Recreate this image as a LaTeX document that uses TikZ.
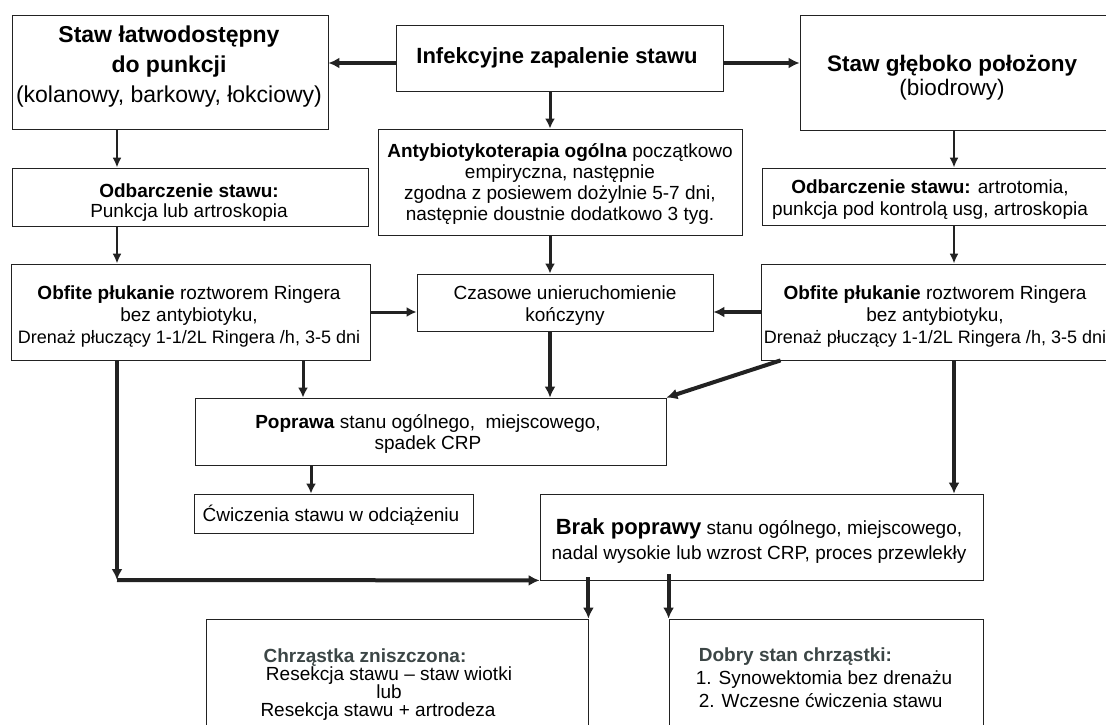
\documentclass[tikz,border=0pt]{standalone}
\usepackage{fontspec}
\setmainfont{Liberation Sans}
\usetikzlibrary{arrows.meta}
\definecolor{hd}{RGB}{60,70,70}
\definecolor{ln}{RGB}{34,34,34}
\tikzset{
  box/.style={draw=ln, line width=0.8pt, rectangle, inner sep=0pt, anchor=center},
  txt/.style={align=center, inner sep=0pt, anchor=center, font=\fontsize{19}{22}\selectfont},
  thinarr/.style={draw=ln, line width=2pt, -{Latex[length=10pt,width=9pt]}},
  medarr/.style={draw=ln, line width=3pt, -{Latex[length=10pt,width=10pt]}},
  thickarr/.style={draw=ln, line width=4pt, -{Latex[length=11pt,width=11pt]}},
}
\begin{document}
\begin{tikzpicture}[x=1pt,y=-1pt]
\useasboundingbox (0,0) rectangle (1106,725);
\clip (0,0) rectangle (1106,725);
\fill[white] (0,0) rectangle (1106,725);
% boxes
\node[box, minimum width=316pt, minimum height=114pt] (A) at (170,72) {};
\node[box, minimum width=327pt, minimum height=66pt] (B) at (559.5,58) {};
\node[box, minimum width=310pt, minimum height=115pt] (C) at (955,72.5) {};
\node[box, minimum width=356pt, minimum height=58pt] (D) at (190,197) {};
\node[box, minimum width=364pt, minimum height=106pt] (E) at (560,182) {};
\node[box, minimum width=348pt, minimum height=57pt] (F) at (936,196.5) {};
\node[box, minimum width=359pt, minimum height=96pt] (G) at (190.5,312) {};
\node[box, minimum width=296pt, minimum height=57pt] (Cz) at (565,302.5) {};
\node[box, minimum width=349pt, minimum height=96pt] (H) at (935.5,312) {};
\node[box, minimum width=471pt, minimum height=67pt] (P) at (430.5,431.5) {};
\node[box, minimum width=279pt, minimum height=39pt] (Cw) at (333.5,513.5) {};
\node[box, minimum width=443pt, minimum height=86pt] (Br) at (761.5,537) {};
\node[box, minimum width=382pt, minimum height=121pt] (Ch) at (397,679.5) {};
\node[box, minimum width=314pt, minimum height=121pt] (Do) at (826,679.5) {};
% texts
\node[txt, font=\fontsize{23}{30}\selectfont] (tA) at (169,67) {\textbf{Staw łatwodostępny}\\\textbf{do punkcji}\\(kolanowy, barkowy, łokciowy)};
\node[txt, font=\fontsize{22}{26}\selectfont\bfseries] (tB) at (557,58) {Infekcyjne zapalenie stawu};
\node[txt, font=\fontsize{22.5}{24}\selectfont] (tC) at (952,78) {\textbf{Staw głęboko położony}\\(biodrowy)};
\node[txt, font=\fontsize{19}{20}\selectfont] (tD) at (189,203) {\textbf{Odbarczenie stawu:}\\Punkcja lub artroskopia};
\node[txt, font=\fontsize{19}{21}\selectfont] (tE) at (560,184) {\textbf{Antybiotykoterapia ogólna} początkowo\\empiryczna, następnie\\zgodna z posiewem dożylnie 5-7 dni,\\następnie doustnie dodatkowo 3 tyg.};
\node[txt] (tF) at (930,200) {\textbf{Odbarczenie stawu:} artrotomia,\\punkcja pod kontrolą usg, artroskopia};
\node[txt] (tG) at (189,316) {\textbf{Obfite płukanie} roztworem Ringera\\bez antybiotyku,\\{\fontsize{18}{22}\selectfont Drenaż płuczący 1-1/2L Ringera /h, 3-5 dni}};
\node[txt] (tH) at (935,316) {\textbf{Obfite płukanie} roztworem Ringera\\bez antybiotyku,\\{\fontsize{18}{22}\selectfont Drenaż płuczący 1-1/2L Ringera /h, 3-5 dni}};
\node[txt] (tCz) at (565,306) {Czasowe unieruchomienie\\kończyny};
\node[txt, font=\fontsize{19}{21}\selectfont] (tP) at (428,434) {\textbf{Poprawa} stanu ogólnego,\ \ miejscowego,\\spadek CRP};
\node[txt] (tCw) at (331,515) {Ćwiczenia stawu w odciążeniu};
\node[txt, font=\fontsize{19}{25}\selectfont] (tBr) at (759,541) {{\fontsize{22}{25}\selectfont\bfseries Brak poprawy} stanu ogólnego, miejscowego,\\nadal wysokie lub wzrost CRP, proces przewlekły};
\node[txt, font=\fontsize{19}{18}\selectfont] (tCh) at (389,685) {\textcolor{hd}{\textbf{Chrząstka zniszczona:}}\hspace*{48pt}\\Resekcja stawu – staw wiotki\\lub\\Resekcja stawu + artrodeza\hspace*{22pt}};
\node[txt, align=left, font=\fontsize{19}{23}\selectfont] (tDo) at (824,678) {\hspace*{3pt}\textcolor{hd}{\textbf{Dobry stan chrząstki:}}\\1. Synowektomia bez drenażu\\\hspace*{3pt}2. Wczesne ćwiczenia stawu};
% column coordinates
\coordinate (lx) at (117,0);
\coordinate (cx) at (550,0);
\coordinate (rx) at (954,0);
\coordinate (ty) at (0,63);
\coordinate (corner) at (117,580);
% connectors
\draw[thickarr] (B.west |- ty) -- (A.east |- ty);
\draw[thickarr] (B.east |- ty) -- (C.west |- ty);
\draw[medarr] (B.south -| cx) -- (E.north -| cx);
\draw[thinarr] (A.south -| lx) -- (D.north -| lx);
\draw[thinarr] (D.south -| lx) -- (G.north -| lx);
\draw[thinarr] (C.south -| rx) -- (F.north -| rx);
\draw[thinarr] (F.south -| rx) -- (H.north -| rx);
\draw[medarr] (E.south -| cx) -- (Cz.north -| cx);
\draw[medarr] (G.east) -- (G.east -| Cz.west);
\draw[thickarr] (H.west) -- (H.west -| Cz.east);
\draw[medarr] (G.south -| 303,0) -- (P.north -| 303,0);
\draw[thickarr] (Cz.south -| cx) -- (P.north -| cx);
\draw[thickarr] ([xshift=20pt]H.south west) -- (P.north east);
\draw[thickarr] (H.south -| rx) -- (Br.north -| rx);
\draw[medarr] (P.south -| 311,0) -- (Cw.north -| 311,0);
\draw[thickarr] (G.south -| lx) -- (corner);
\draw[thickarr] (corner) -- (Br.south west);
\draw[thickarr] ([yshift=3pt]Br.south -| Ch.north east) -- (Ch.north east);
\draw[thickarr] ([yshift=6pt]Br.south -| Do.north west) -- (Do.north west);
\end{tikzpicture}
\end{document}
